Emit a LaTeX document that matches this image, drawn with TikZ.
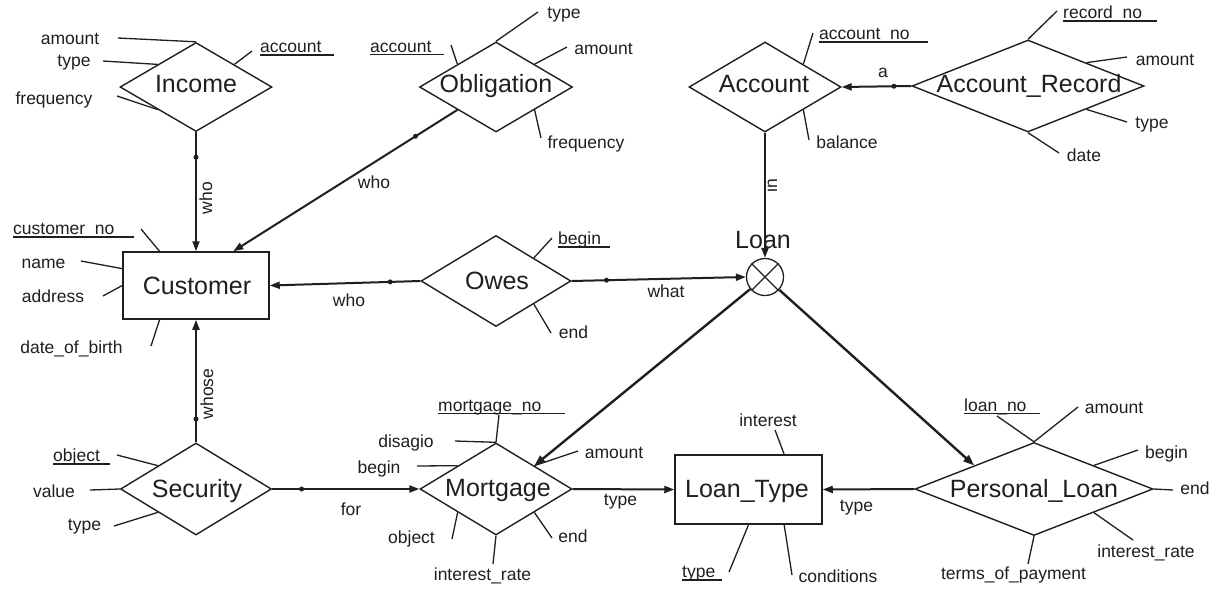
\documentclass[tikz,border=0pt]{standalone}
\usepackage{fontspec}
\setmainfont{Liberation Sans}
\usetikzlibrary{shapes.geometric,arrows.meta,calc}
\definecolor{ink}{gray}{0.12}

\begin{document}
\begin{tikzpicture}[x=1pt,y=-1pt,
  rel/.style={diamond, draw=ink, line width=1.4pt, inner sep=0pt},
  ent/.style={rectangle, draw=ink, line width=1.5pt, inner sep=0pt},
  lbl/.style={font=\fontsize{17.5}{20}\selectfont, text=ink, inner sep=0pt, text height=12.5pt, text depth=3.7pt},
  big/.style={font=\fontsize{25}{28}\selectfont, text=ink, inner sep=0pt, text height=18pt, text depth=5.3pt},
  att/.style={draw=ink, line width=1.3pt},
  uline/.style={draw=ink, line width=1.2pt},
  link/.style={draw=ink, line width=2pt, -{Triangle[length=10pt,width=7pt]}},
  isa/.style={draw=ink, line width=2.4pt, -{Triangle[length=11pt,width=8pt]}},
  dot/.style={circle, fill=ink, inner sep=0pt, minimum size=5pt},
]
\fill[white] (0,0) rectangle (1220,590);
\useasboundingbox (0,0) rectangle (1220,590);

% entities and relationships
\node[rel, minimum width=152pt, minimum height=89pt] (Income) at (196,87) {};
\node[rel, minimum width=153pt, minimum height=90pt] (Obligation) at (496,87) {};
\node[rel, minimum width=152pt, minimum height=90pt] (Account) at (765,87) {};
\node[rel, minimum width=232pt, minimum height=92pt] (AccountRecord) at (1028,86) {};
\node[ent, minimum width=146pt, minimum height=67pt] (Customer) at (196,285.5) {};
\node[rel, minimum width=150pt, minimum height=91pt] (Owes) at (496,281) {};
\node[circle, draw=ink, line width=1.3pt, minimum size=37pt, inner sep=0pt] (Loan) at (765,277) {};
\draw[ink, line width=1.3pt] (Loan.north west) -- (Loan.south east) (Loan.north east) -- (Loan.south west);
\node[rel, minimum width=151pt, minimum height=92pt] (Security) at (196,489) {};
\node[rel, minimum width=152pt, minimum height=92pt] (Mortgage) at (496,489) {};
\node[ent, minimum width=147pt, minimum height=69pt] (LoanType) at (748.5,489.5) {};
\node[rel, minimum width=238pt, minimum height=93pt] (PersonalLoan) at (1034,489) {};

% names
\node[big] (tIncome) at (196,86.6) {Income};
\node[big] (tObligation) at (496,86.6) {Obligation};
\node[big] (tAccount) at (764,86.6) {Account};
\node[big] (tAccountRecord) at (1029,86.6) {Account\_Record};
\node[big] (tCustomer) at (197,288.6) {Customer};
\node[big] (tOwes) at (497,283.6) {Owes};
\node[big] (tLoan) at (763,241.7) {Loan};
\node[big] (tSecurity) at (197,491.6) {Security};
\node[big] (tMortgage) at (498,490.6) {Mortgage};
\node[big] (tLoanType) at (747,491.6) {Loan\_Type};
\node[big] (tPersonalLoan) at (1034,491.6) {Personal\_Loan};

% connectors
\draw[link] (Income.south) -- node[dot, pos=.21] (d1) {} (Customer.north);
\draw[link] (Obligation.south west) -- node[dot, pos=.187] (d2) {} ($(Customer.north west)!.753!(Customer.north east)$);
\draw[link] (Owes.west) -- node[dot, pos=.2] (d3) {} (Customer.east);
\draw[link] (Owes.east) -- node[dot, pos=.2] (d4) {} (Loan.west);
\draw[link] (Account.south) -- (Loan.north);
\draw[link] (AccountRecord.west) -- node[dot, pos=.25] (d5) {} (Account.east);
\draw[link] (Security.north) -- node[dot, pos=.19] (d6) {} (Customer.south);
\draw[link] (Security.east) -- node[dot, pos=.2] (d7) {} (Mortgage.west);
\draw[link] (Mortgage.east) -- (LoanType.west);
\draw[link] (PersonalLoan.west) -- (LoanType.east);
\draw[isa] (Loan) -- (Mortgage.north east);
\draw[isa] (Loan) -- (PersonalLoan.north west);

% connector labels
\node[lbl, rotate=90] (lWho1) at (207.6,198) {who};
\node[lbl] (lWho2) at (374,183.6) {who};
\node[lbl] (lWho3) at (349,301.6) {who};
\node[lbl] (lWhat) at (666,292.6) {what};
\node[lbl, rotate=90] (lIn) at (772.6,186) {in};
\node[lbl] (lA) at (883,72.6) {a};
\node[lbl, rotate=90] (lWhose) at (208.6,394) {whose};
\node[lbl] (lFor) at (351,510.6) {for};
\node[lbl] (lType1) at (620.5,500.6) {type};
\node[lbl] (lType2) at (856.5,506.6) {type};

% Income attributes
\node[lbl] (aIncAmount) at (70,39.6) {amount};
\draw[att] (118,38) -- (Income.north);
\node[lbl] (aIncType) at (74,62) {type};
\draw[att] (103,61) -- (Income.north west);
\node[lbl] (aIncFreq) at (54,99.6) {frequency};
\draw[att] (117,96) -- (Income.south west);
\node[lbl, anchor=base west] (aIncAcc) at (260,52.5) {account};
\draw[uline] ([yshift=-2.5pt]aIncAcc.base west) -- ++(74,0);
\draw[att] (252,51) -- (Income.north east);

% Obligation attributes
\node[lbl] (aOblType) at (564,13.6) {type};
\draw[att] (538,12) -- (Obligation.north);
\node[lbl] (aOblAmount) at (603.5,49.6) {amount};
\draw[att] (567,47) -- (Obligation.north east);
\node[lbl] (aOblFreq) at (586,143.6) {frequency};
\draw[att] (541,138) -- (Obligation.south east);
\node[lbl, anchor=base west] (aOblAcc) at (370,52) {account};
\draw[uline] ([yshift=-2.5pt]aOblAcc.base west) -- ++(74,0);
\draw[att] (451,45) -- (Obligation.north west);

% Account attributes
\node[lbl, anchor=base west] (aAccNo) at (819,39.5) {account\_no};
\draw[uline] ([yshift=-2.5pt]aAccNo.base west) -- ++(109,0);
\draw[att] (813,33) -- (Account.north east);
\node[lbl] (aAccBal) at (847,143.6) {balance};
\draw[att] (809,140) -- (Account.south east);

% Account_Record attributes
\node[lbl, anchor=base west] (aRecNo) at (1063,18.5) {record\_no};
\draw[uline] ([yshift=-2.5pt]aRecNo.base west) -- ++(94,0);
\draw[att] (1057,11) -- (AccountRecord.north);
\node[lbl] (aRecAmount) at (1165,60.6) {amount};
\draw[att] (1127,57) -- (AccountRecord.north east);
\node[lbl] (aRecType) at (1152,123.6) {type};
\draw[att] (1127,122) -- (AccountRecord.south east);
\node[lbl] (aRecDate) at (1084,157.3) {date};
\draw[att] (1059,153) -- (AccountRecord.south);

% Customer attributes
\node[lbl, anchor=base west] (aCustNo) at (13,234.5) {customer\_no};
\draw[uline] ([yshift=-2.5pt]aCustNo.base west) -- ++(121,0);
\draw[att] (141,229) -- ($(Customer.north west)!.253!(Customer.north east)$);
\node[lbl] (aCustName) at (43.5,263.6) {name};
\draw[att] (81,261) -- ($(Customer.north west)!.254!(Customer.south west)$);
\node[lbl] (aCustAddr) at (53,297.6) {address};
\draw[att] (103,296) -- (Customer.west);
\node[lbl] (aCustDob) at (71.5,348.6) {date\_of\_birth};
\draw[att] (151,346) -- ($(Customer.south west)!.253!(Customer.south east)$);

% Owes attributes
\node[lbl, anchor=base west] (aOwesBegin) at (558,244.5) {begin};
\draw[uline] ([yshift=-2.5pt]aOwesBegin.base west) -- ++(52,0);
\draw[att] (552,238) -- (Owes.north east);
\node[lbl] (aOwesEnd) at (573.5,333.6) {end};
\draw[att] (551,333) -- (Owes.south east);

% Security attributes
\node[lbl, anchor=base west] (aSecObj) at (53,461.5) {object};
\draw[uline] ([yshift=-2.5pt]aSecObj.base west) -- ++(57,0);
\draw[att] (117,455) -- (Security.north west);
\node[lbl] (aSecValue) at (54,492.6) {value};
\draw[att] (90,490) -- (Security.west);
\node[lbl] (aSecType) at (84.5,525.6) {type};
\draw[att] (114,526) -- (Security.south west);

% Mortgage attributes
\node[lbl, anchor=base west] (aMortNo) at (438,411) {mortgage\_no};
\draw[uline] ([yshift=-2.5pt]aMortNo.base west) -- ++(127,0);
\draw[att] (499,415) -- (Mortgage.north);
\node[lbl] (aMortDis) at (406,442.6) {disagio};
\draw[att] (455,441) -- (Mortgage.north);
\node[lbl] (aMortBegin) at (379,468.6) {begin};
\draw[att] (417,466) -- (Mortgage.north west);
\node[lbl] (aMortAmount) at (614,453.6) {amount};
\draw[att] (578,451) -- (Mortgage.north east);
\node[lbl] (aMortObj) at (411.5,538.6) {object};
\draw[att] (452,539) -- (Mortgage.south west);
\node[lbl] (aMortRate) at (482.5,575.6) {interest\_rate};
\draw[att] (493,564) -- (Mortgage.south);
\node[lbl] (aMortEnd) at (573,537.6) {end};
\draw[att] (552,538) -- (Mortgage.south east);

% Loan_Type attributes
\node[lbl] (aLtInt) at (768,421.6) {interest};
\draw[att] (775,430) -- ($(LoanType.north west)!.74!(LoanType.north east)$);
\node[lbl, anchor=base west] (aLtType) at (682,577) {type};
\draw[uline] ([yshift=-3pt]aLtType.base west) -- ++(40,0);
\draw[att] (729,572) -- (LoanType.south);
\node[lbl] (aLtCond) at (838,577.6) {conditions};
\draw[att] (792,575) -- ($(LoanType.south west)!.74!(LoanType.south east)$);

% Personal_Loan attributes
\node[lbl, anchor=base west] (aPlNo) at (964,411) {loan\_no};
\draw[uline] ([yshift=-2.5pt]aPlNo.base west) -- ++(76,0);
\draw[att] (997,416) -- (PersonalLoan.north);
\node[lbl] (aPlAmount) at (1114,408.6) {amount};
\draw[att] (1078,407) -- (PersonalLoan.north);
\node[lbl] (aPlBegin) at (1166.5,453.6) {begin};
\draw[att] (1138,450) -- (PersonalLoan.north east);
\node[lbl] (aPlEnd) at (1195,489.6) {end};
\draw[att] (1173,490) -- (PersonalLoan.east);
\node[lbl] (aPlRate) at (1146,552.6) {interest\_rate};
\draw[att] (1133,540) -- (PersonalLoan.south east);
\node[lbl] (aPlTerms) at (1013.5,574.6) {terms\_of\_payment};
\draw[att] (1028,564) -- (PersonalLoan.south);
\end{tikzpicture}
\end{document}
